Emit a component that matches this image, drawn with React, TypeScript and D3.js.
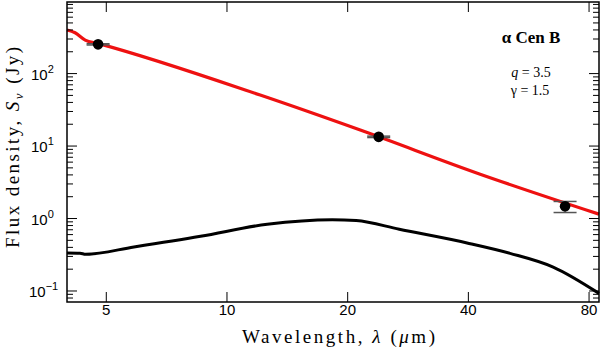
import React, { useEffect, useRef } from 'react';
import * as d3 from 'd3';

// tick values
const xTicks = [5, 10, 20, 40, 80];
const yMajor = [0.1, 1, 10, 100];
const yExp = ['\u22121', '0', '1', '2'];

// photometry (wavelength in um, flux in Jy)
const photWave = [4.77, 23.9, 69.7];
const photFlux = [253, 13.4, 1.48];
const photLow = [248, 13.1, 1.21];
const photHigh = [258, 13.7, 1.72];

// stellar photosphere model
const starWave = [3.99, 4.18, 4.43, 4.76, 12.1, 21.5, 42.8, 84.7];
const starFlux = [399, 366, 290, 261, 50.5, 16.6, 4.09, 1.15];

// disk model
const diskWave = [3.99, 4.3, 4.44, 5.86, 8.59, 12.6, 18.3, 21.0, 26.9, 39.7, 50.8, 65.1, 84.7];
const diskFlux = [0.335, 0.333, 0.321, 0.405, 0.569, 0.834, 0.965, 0.94, 0.71, 0.46, 0.331, 0.214, 0.0927];

export default function App() {
  const ref = useRef<SVGSVGElement>(null);

  useEffect(() => {
    const svg = d3.select(ref.current);
    svg.selectAll('*').remove();

    const margin = { top: 2, right: 1, bottom: 49, left: 67 };
    const width = 600 - margin.left - margin.right;
    const height = 351 - margin.top - margin.bottom;

    const x = d3.scaleLog().domain([3.99, 84.7]).range([0, width]);
    const y = d3.scaleLog().domain([0.0705, 972]).range([height, 0]);

    const chart = svg.append('g')
      .attr('transform', `translate(${margin.left},${margin.top})`);

    // curves
    const line = d3.line<[number, number]>()
      .curve(d3.curveMonotoneX)
      .x((d) => x(d[0]))
      .y((d) => y(d[1]));

    chart.append('path')
      .attr('d', line(diskWave.map((w, i) => [w, diskFlux[i]] as [number, number])))
      .attr('fill', 'none')
      .attr('stroke', '#000')
      .attr('stroke-width', 3);

    chart.append('path')
      .attr('d', line(starWave.map((w, i) => [w, starFlux[i]] as [number, number])))
      .attr('fill', 'none')
      .attr('stroke', '#ee1111')
      .attr('stroke-width', 3.2);

    // error bars
    const bars = chart.selectAll('.err')
      .data(photWave.map((w, i) => ({ w, f: photFlux[i], lo: photLow[i], hi: photHigh[i] })))
      .enter().append('g')
      .attr('class', 'err')
      .attr('stroke', '#555')
      .attr('stroke-width', 1.5);
    bars.append('line')
      .attr('x1', (d) => x(d.w)).attr('x2', (d) => x(d.w))
      .attr('y1', (d) => y(d.lo)).attr('y2', (d) => y(d.hi));
    bars.append('line')
      .attr('x1', (d) => x(d.w) - 11.5).attr('x2', (d) => x(d.w) + 11.5)
      .attr('y1', (d) => y(d.lo)).attr('y2', (d) => y(d.lo));
    bars.append('line')
      .attr('x1', (d) => x(d.w) - 11.5).attr('x2', (d) => x(d.w) + 11.5)
      .attr('y1', (d) => y(d.hi)).attr('y2', (d) => y(d.hi));

    chart.selectAll('.pt')
      .data(photWave)
      .enter().append('circle')
      .attr('class', 'pt')
      .attr('cx', (d) => x(d))
      .attr('cy', (d, i) => y(photFlux[i]))
      .attr('r', 5.3)
      .attr('fill', '#000');

    // frame
    chart.append('rect')
      .attr('width', width)
      .attr('height', height)
      .attr('fill', 'none')
      .attr('stroke', '#000')
      .attr('stroke-width', 1.5);

    // x ticks (bottom + top, inward)
    xTicks.forEach((t) => {
      chart.append('line')
        .attr('x1', x(t)).attr('x2', x(t))
        .attr('y1', height).attr('y2', height - 10)
        .attr('stroke', '#000');
      chart.append('line')
        .attr('x1', x(t)).attr('x2', x(t))
        .attr('y1', 0).attr('y2', 10)
        .attr('stroke', '#000');
      chart.append('text')
        .attr('x', x(t))
        .attr('y', height + 13)
        .attr('text-anchor', 'middle')
        .style('font-family', 'Liberation Sans, Arial, sans-serif')
        .style('font-size', '15px')
        .text(String(t));
    });

    // y ticks (left + right, inward)
    const yAll = y.ticks().filter((v) => v >= 0.0705 && v <= 972);
    yAll.forEach((v) => {
      const major = yMajor.some((m) => Math.abs(m - v) / m < 1e-6);
      const len = major ? 10 : 6;
      chart.append('line')
        .attr('x1', 0).attr('x2', len)
        .attr('y1', y(v)).attr('y2', y(v))
        .attr('stroke', '#000');
      chart.append('line')
        .attr('x1', width).attr('x2', width - len)
        .attr('y1', y(v)).attr('y2', y(v))
        .attr('stroke', '#000');
    });

    yMajor.forEach((v, i) => {
      const t = chart.append('text')
        .attr('x', (i === 0 ? 29 : 31) - margin.left)
        .attr('y', y(v) + 6)
        .style('font-family', 'Liberation Sans, Arial, sans-serif')
        .style('font-size', '15px');
      t.append('tspan').text('10');
      t.append('tspan')
        .attr('dy', -7)
        .style('font-size', '11px')
        .text(yExp[i]);
    });

    // axis titles
    const xt = svg.append('text')
      .attr('x', 242)
      .attr('y', 343)
      .attr('textLength', 193)
      .attr('lengthAdjust', 'spacing')
      .style('font-family', 'Liberation Serif, Times New Roman, serif')
      .style('font-size', '19px');
    xt.append('tspan').text('Wavelength, ');
    xt.append('tspan').style('font-style', 'italic').text('\u03bb');
    xt.append('tspan').text(' (');
    xt.append('tspan').style('font-style', 'italic').text('\u03bc');
    xt.append('tspan').text('m)');

    const yt = svg.append('text')
      .attr('transform', 'translate(19,248) rotate(-90)')
      .attr('textLength', 201)
      .attr('lengthAdjust', 'spacing')
      .style('font-family', 'Liberation Serif, Times New Roman, serif')
      .style('font-size', '19px');
    yt.append('tspan').text('Flux density, ');
    yt.append('tspan').style('font-style', 'italic').text('S');
    yt.append('tspan').attr('dy', 4).style('font-size', '13px').style('font-style', 'italic').text('\u03bd');
    yt.append('tspan').attr('dy', -4).text(' (Jy)');

    // annotation
    svg.append('text')
      .attr('x', 531)
      .attr('y', 43)
      .attr('text-anchor', 'middle')
      .style('font-family', 'Liberation Serif, Times New Roman, serif')
      .style('font-size', '17px')
      .style('font-weight', 'bold')
      .text('\u03b1 Cen B');

    const q = svg.append('text')
      .attr('x', 531)
      .attr('y', 77)
      .attr('text-anchor', 'middle')
      .style('font-family', 'Liberation Serif, Times New Roman, serif')
      .style('font-size', '14px');
    q.append('tspan').style('font-style', 'italic').text('q');
    q.append('tspan').text(' = 3.5');

    svg.append('text')
      .attr('x', 530)
      .attr('y', 95)
      .attr('text-anchor', 'middle')
      .style('font-family', 'Liberation Serif, Times New Roman, serif')
      .style('font-size', '14px')
      .text('\u03b3 = 1.5');
  }, []);

  return (
    <svg
      ref={ref}
      width={600}
      height={351}
      style={{ position: 'absolute', left: 0, top: 0, background: '#fff' }}
    />
  );
}
